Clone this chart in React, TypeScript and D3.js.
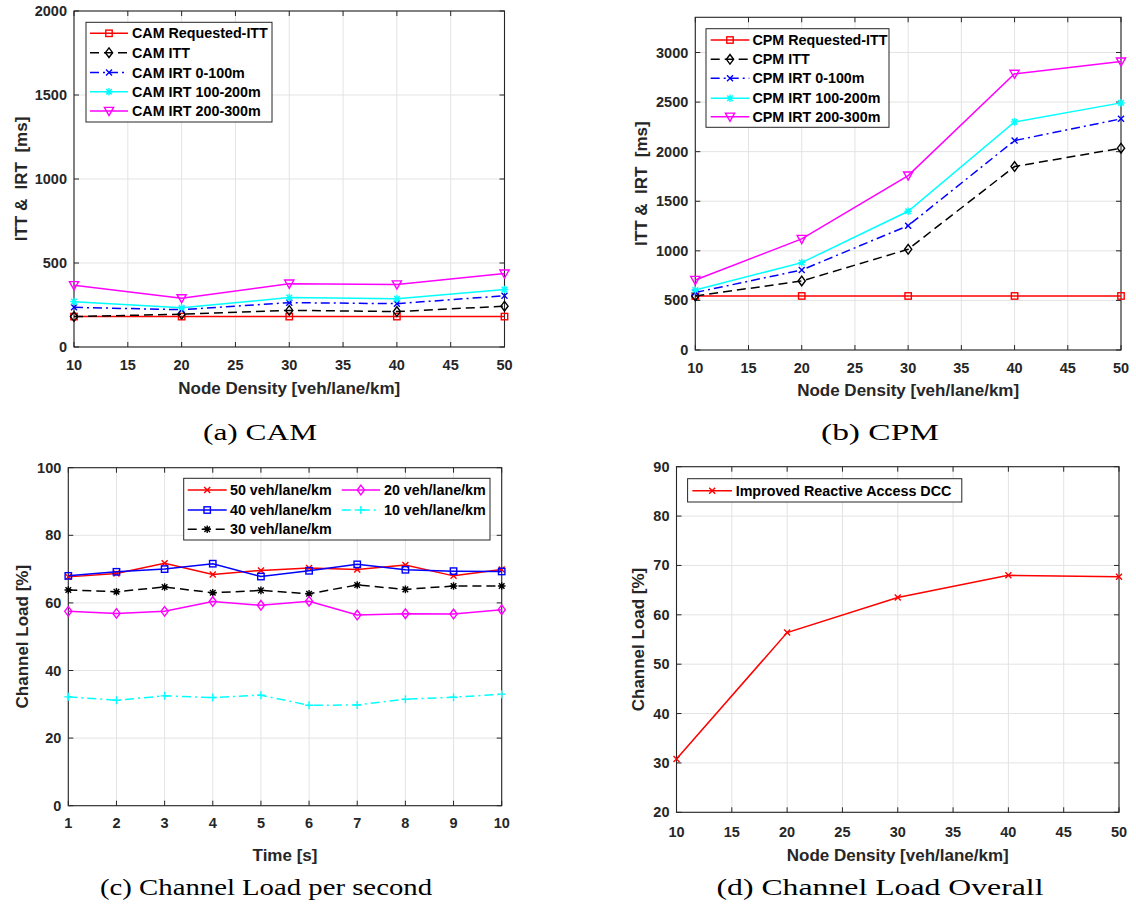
import React from 'react';
import * as d3 from 'd3';

// ---------- Data ----------
const densities = [10, 20, 30, 40, 50];
const densityTicks = [10, 15, 20, 25, 30, 35, 40, 45, 50];

const camRequestedITT = [181, 181, 181, 181, 181];
const camITT = [181, 195, 218, 211, 243];
const camIRT0to100 = [236, 222, 264, 258, 305];
const camIRT100to200 = [270, 234, 294, 287, 342];
const camIRT200to300 = [368, 290, 377, 372, 437];
const camYTicks = [0, 500, 1000, 1500, 2000];

const cpmRequestedITT = [545, 545, 545, 545, 545];
const cpmITT = [545, 696, 1016, 1850, 2035];
const cpmIRT0to100 = [580, 807, 1254, 2112, 2331];
const cpmIRT100to200 = [605, 881, 1399, 2300, 2492];
const cpmIRT200to300 = [706, 1120, 1759, 2785, 2909];
const cpmYTicks = [0, 500, 1000, 1500, 2000, 2500, 3000];

const times = [1, 2, 3, 4, 5, 6, 7, 8, 9, 10];
const load50 = [67.7, 68.7, 71.7, 68.4, 69.6, 70.3, 69.9, 71.2, 68.0, 69.9];
const load40 = [68.0, 69.2, 70.0, 71.6, 67.8, 69.5, 71.4, 69.8, 69.4, 69.3];
const load30 = [63.8, 63.3, 64.7, 63.0, 63.7, 62.7, 65.3, 64.0, 65.0, 65.0];
const load20 = [57.5, 56.9, 57.5, 60.4, 59.3, 60.5, 56.4, 56.8, 56.7, 58.0];
const load10 = [32.2, 31.2, 32.5, 32.0, 32.7, 29.7, 29.8, 31.5, 32.1, 33.0];
const loadYTicks = [0, 20, 40, 60, 80, 100];

const overallLoad = [30.8, 56.4, 63.5, 68.0, 67.7];
const overallYTicks = [20, 30, 40, 50, 60, 70, 80, 90];

// ---------- Styles ----------
const SANS = 'Liberation Sans, Arial, Helvetica, sans-serif';
const SERIF = 'Liberation Serif, Times New Roman, serif';
const AXIS_COLOR = '#262626';
const GRID_COLOR = '#e3e3e3';
const DASHED = '9,5';
const DASHDOT = '9,4,2,4';

type MarkerType = 'square' | 'diamond' | 'x' | 'star' | 'tri' | 'plus';

interface Series {
  name: string;
  values: number[];
  color: string;
  dash?: string;
  marker: MarkerType;
}

function Marker({ type, x, y, color }: { type: MarkerType; x: number; y: number; color: string }) {
  const sw = 1.4;
  const common = { stroke: color, strokeWidth: sw, fill: 'none' } as any;
  switch (type) {
    case 'square':
      return <rect x={x - 3.2} y={y - 3.2} width={6.4} height={6.4} {...common} />;
    case 'diamond':
      return <path d={`M${x},${y - 4.8}L${x + 3.6},${y}L${x},${y + 4.8}L${x - 3.6},${y}Z`} {...common} />;
    case 'x':
      return (
        <path d={`M${x - 3},${y - 3}L${x + 3},${y + 3}M${x - 3},${y + 3}L${x + 3},${y - 3}`} {...common} />
      );
    case 'star':
      return (
        <path
          d={`M${x - 3.8},${y}L${x + 3.8},${y}M${x},${y - 3.8}L${x},${y + 3.8}M${x - 2.8},${y - 2.8}L${x + 2.8},${y + 2.8}M${x - 2.8},${y + 2.8}L${x + 2.8},${y - 2.8}`}
          {...common}
        />
      );
    case 'tri':
      return <path d={`M${x - 4.6},${y - 3.6}L${x + 4.6},${y - 3.6}L${x},${y + 4.6}Z`} {...common} />;
    case 'plus':
      return <path d={`M${x - 4},${y}L${x + 4},${y}M${x},${y - 4}L${x},${y + 4}`} {...common} />;
  }
  return null;
}

interface LegendItem {
  series: Series;
  x1: number;
  x2: number;
  tx: number;
  y: number;
}

interface PanelProps {
  L: number;
  R: number;
  T: number;
  B: number;
  xs: number[];
  xDomain: [number, number];
  xTicks: number[];
  yDomain: [number, number];
  yTicks: number[];
  series: Series[];
  xLabel: string;
  yLabel: string;
  xTickY: number;
  xLabelY: number;
  yLabelX: number;
  legendBox: [number, number, number, number];
  legend: LegendItem[];
  caption: string;
  captionX: number;
  captionY: number;
  captionW: number;
}

function Panel(p: PanelProps) {
  const x = d3.scaleLinear().domain(p.xDomain).range([p.L, p.R]);
  const y = d3.scaleLinear().domain(p.yDomain).range([p.B, p.T]);
  const tl = 5;
  const [bx1, by1, bx2, by2] = p.legendBox;
  return (
    <g>
      {/* grid */}
      {p.xTicks.map((t) => (
        <line key={'gx' + t} x1={x(t)} x2={x(t)} y1={p.T} y2={p.B} stroke={GRID_COLOR} strokeWidth={1} />
      ))}
      {p.yTicks.map((t) => (
        <line key={'gy' + t} x1={p.L} x2={p.R} y1={y(t)} y2={y(t)} stroke={GRID_COLOR} strokeWidth={1} />
      ))}
      {/* ticks */}
      {p.xTicks.map((t) => (
        <g key={'tx' + t}>
          <line x1={x(t)} x2={x(t)} y1={p.B} y2={p.B - tl} stroke={AXIS_COLOR} strokeWidth={1} />
          <line x1={x(t)} x2={x(t)} y1={p.T} y2={p.T + tl} stroke={AXIS_COLOR} strokeWidth={1} />
          <text
            x={x(t)}
            y={p.xTickY}
            textAnchor="middle"
            dominantBaseline="central"
            fontFamily={SANS}
            fontWeight="bold"
            fontSize={14.5}
            fill={AXIS_COLOR}
          >
            {t}
          </text>
        </g>
      ))}
      {p.yTicks.map((t) => (
        <g key={'ty' + t}>
          <line x1={p.L} x2={p.L + tl} y1={y(t)} y2={y(t)} stroke={AXIS_COLOR} strokeWidth={1} />
          <line x1={p.R} x2={p.R - tl} y1={y(t)} y2={y(t)} stroke={AXIS_COLOR} strokeWidth={1} />
          <text
            x={p.L - 7}
            y={y(t)}
            textAnchor="end"
            dominantBaseline="central"
            fontFamily={SANS}
            fontWeight="bold"
            fontSize={14.5}
            fill={AXIS_COLOR}
          >
            {t}
          </text>
        </g>
      ))}
      {/* box */}
      <rect x={p.L} y={p.T} width={p.R - p.L} height={p.B - p.T} fill="none" stroke={AXIS_COLOR} strokeWidth={1.1} />
      {/* series */}
      {p.series.map((s) => {
        const line = d3
          .line<number>()
          .x((_, i) => x(p.xs[i]))
          .y((v) => y(v));
        return (
          <g key={s.name}>
            <path d={line(s.values) || ''} fill="none" stroke={s.color} strokeWidth={1.5} strokeDasharray={s.dash} />
            {s.values.map((v, i) => (
              <Marker key={i} type={s.marker} x={x(p.xs[i])} y={y(v)} color={s.color} />
            ))}
          </g>
        );
      })}
      {/* legend */}
      <rect x={bx1} y={by1} width={bx2 - bx1} height={by2 - by1} fill="#ffffff" stroke={AXIS_COLOR} strokeWidth={1} />
      {p.legend.map((it) => (
        <g key={'lg' + it.series.name}>
          <line
            x1={it.x1}
            x2={it.x2}
            y1={it.y}
            y2={it.y}
            stroke={it.series.color}
            strokeWidth={1.5}
            strokeDasharray={it.series.dash}
          />
          <Marker type={it.series.marker} x={(it.x1 + it.x2) / 2} y={it.y} color={it.series.color} />
          <text
            x={it.tx}
            y={it.y}
            dominantBaseline="central"
            fontFamily={SANS}
            fontWeight="bold"
            fontSize={14.3}
            fill="#000"
          >
            {it.series.name}
          </text>
        </g>
      ))}
      {/* axis labels */}
      <text
        x={(p.L + p.R) / 2}
        y={p.xLabelY}
        textAnchor="middle"
        dominantBaseline="central"
        fontFamily={SANS}
        fontWeight="bold"
        fontSize={17}
        fill={AXIS_COLOR}
      >
        {p.xLabel}
      </text>
      <text
        transform={`translate(${p.yLabelX},${(p.T + p.B) / 2}) rotate(-90)`}
        textAnchor="middle"
        dominantBaseline="central"
        fontFamily={SANS}
        fontWeight="bold"
        fontSize={17}
        fill={AXIS_COLOR}
        style={{ whiteSpace: 'pre' }}
        xmlSpace="preserve"
      >
        {p.yLabel}
      </text>
      {/* caption */}
      <text
        x={p.captionX}
        y={p.captionY}
        textAnchor="middle"
        fontFamily={SERIF}
        fontSize={24}
        fill="#000"
        textLength={p.captionW}
        lengthAdjust="spacingAndGlyphs"
      >
        {p.caption}
      </text>
    </g>
  );
}

function legendColumn(series: Series[], x1: number, x2: number, tx: number, ys: number[]): LegendItem[] {
  return series.map((s, i) => ({ series: s, x1, x2, tx, y: ys[i] }));
}

export default function App() {
  const camSeries: Series[] = [
    { name: 'CAM Requested-ITT', values: camRequestedITT, color: '#ff0000', marker: 'square' },
    { name: 'CAM ITT', values: camITT, color: '#000000', dash: DASHED, marker: 'diamond' },
    { name: 'CAM IRT 0-100m', values: camIRT0to100, color: '#0000ff', dash: DASHDOT, marker: 'x' },
    { name: 'CAM IRT 100-200m', values: camIRT100to200, color: '#00ffff', marker: 'star' },
    { name: 'CAM IRT 200-300m', values: camIRT200to300, color: '#ff00ff', marker: 'tri' },
  ];
  const cpmSeries: Series[] = [
    { name: 'CPM Requested-ITT', values: cpmRequestedITT, color: '#ff0000', marker: 'square' },
    { name: 'CPM ITT', values: cpmITT, color: '#000000', dash: DASHED, marker: 'diamond' },
    { name: 'CPM IRT 0-100m', values: cpmIRT0to100, color: '#0000ff', dash: DASHDOT, marker: 'x' },
    { name: 'CPM IRT 100-200m', values: cpmIRT100to200, color: '#00ffff', marker: 'star' },
    { name: 'CPM IRT 200-300m', values: cpmIRT200to300, color: '#ff00ff', marker: 'tri' },
  ];
  const s50: Series = { name: '50 veh/lane/km', values: load50, color: '#ff0000', marker: 'x' };
  const s40: Series = { name: '40 veh/lane/km', values: load40, color: '#0000ff', marker: 'square' };
  const s30: Series = { name: '30 veh/lane/km', values: load30, color: '#000000', dash: DASHED, marker: 'star' };
  const s20: Series = { name: '20 veh/lane/km', values: load20, color: '#ff00ff', marker: 'diamond' };
  const s10: Series = { name: '10 veh/lane/km', values: load10, color: '#00ffff', dash: DASHDOT, marker: 'plus' };
  const overall: Series = {
    name: 'Improved Reactive Access DCC',
    values: overallLoad,
    color: '#ff0000',
    marker: 'x',
  };

  return (
    <svg
      width={1136}
      height={910}
      style={{ position: 'absolute', left: 0, top: 0, background: '#fff' }}
      xmlns="http://www.w3.org/2000/svg"
    >
      <rect x={0} y={0} width={1136} height={910} fill="#fff" />
      <Panel
        L={74}
        R={504.5}
        T={11}
        B={347}
        xs={densities}
        xDomain={[10, 50]}
        xTicks={densityTicks}
        yDomain={[0, 2000]}
        yTicks={camYTicks}
        series={camSeries}
        xLabel="Node Density [veh/lane/km]"
        yLabel="ITT &  IRT  [ms]"
        xTickY={365}
        xLabelY={388}
        yLabelX={21}
        legendBox={[86, 22.3, 272, 122]}
        legend={legendColumn(camSeries, 90, 128, 132, [33.3, 52.7, 72.5, 91.7, 111])}
        caption="(a) CAM"
        captionX={260}
        captionY={440}
        captionW={114}
      />
      <Panel
        L={695.3}
        R={1121}
        T={17.3}
        B={350}
        xs={densities}
        xDomain={[10, 50]}
        xTicks={densityTicks}
        yDomain={[0, 3355]}
        yTicks={cpmYTicks}
        series={cpmSeries}
        xLabel="Node Density [veh/lane/km]"
        yLabel="ITT &  IRT  [ms]"
        xTickY={368}
        xLabelY={390}
        yLabelX={641}
        legendBox={[706, 28.7, 889, 127.3]}
        legend={legendColumn(cpmSeries, 710.7, 749.3, 752.5, [40, 59.3, 78.3, 98.3, 116.7])}
        caption="(b) CPM"
        captionX={880}
        captionY={440}
        captionW={118}
      />
      <Panel
        L={68.3}
        R={501.7}
        T={467.7}
        B={805.7}
        xs={times}
        xDomain={[1, 10]}
        xTicks={times}
        yDomain={[0, 100]}
        yTicks={loadYTicks}
        series={[s50, s40, s30, s20, s10]}
        xLabel="Time [s]"
        yLabel="Channel Load [%]"
        xTickY={822.7}
        xLabelY={855}
        yLabelX={22.7}
        legendBox={[183.7, 478.3, 490, 540]}
        legend={[
          ...legendColumn([s50, s40, s30], 187.7, 226.7, 230, [490, 510, 529.3]),
          ...legendColumn([s20, s10], 341.7, 380, 384, [490, 510]),
        ]}
        caption="(c) Channel Load per second"
        captionX={266}
        captionY={895}
        captionW={332}
      />
      <Panel
        L={676.5}
        R={1119}
        T={466.7}
        B={812.3}
        xs={densities}
        xDomain={[10, 50]}
        xTicks={densityTicks}
        yDomain={[20, 90]}
        yTicks={overallYTicks}
        series={[overall]}
        xLabel="Node Density [veh/lane/km]"
        yLabel="Channel Load [%]"
        xTickY={831.7}
        xLabelY={855}
        yLabelX={638.5}
        legendBox={[687.6, 478.7, 961.8, 502]}
        legend={legendColumn([overall], 692.4, 732, 735.7, [490.7])}
        caption="(d) Channel Load Overall"
        captionX={880}
        captionY={895}
        captionW={327}
      />
    </svg>
  );
}
